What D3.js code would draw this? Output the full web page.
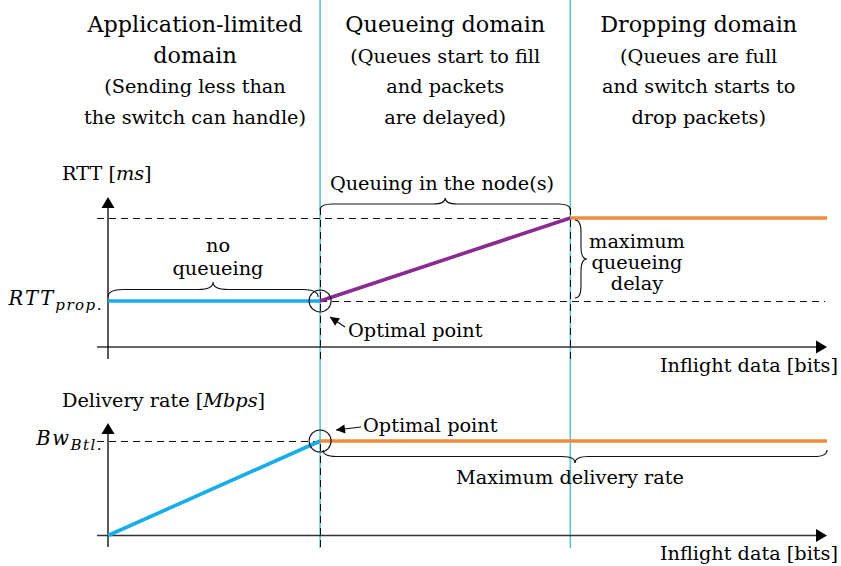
<!DOCTYPE html>
<html>
<head>
<meta charset="utf-8">
<script src="https://cdn.jsdelivr.net/npm/d3@7"></script>
<style>
  body { margin: 0; background: #fff; }
  svg text { font-family: "DejaVu Serif", "Liberation Serif", serif; fill: #000; }
</style>
</head>
<body>
<svg width="841" height="566"></svg>
<script>
// Data (inflight in % of axis length, y in % of axis height)
const xOptimal = 29.5      // BDP point
const xFull = 64.3         // queues full
const xEnd = 100
const rttProp = 30.7
const rttMax = 86
const bwBtl = 84

const rttSegments = [
  { color: "#16ade8", pts: [[0, rttProp], [xOptimal, rttProp]] },
  { color: "#8a2b91", pts: [[xOptimal, rttProp], [xFull, rttMax]] },
  { color: "#f08a3e", pts: [[xFull, rttMax], [xEnd, rttMax]] }
]
const rateSegments = [
  { color: "#16ade8", pts: [[0, 0], [xOptimal, bwBtl]] },
  { color: "#f08a3e", pts: [[xOptimal, bwBtl], [xEnd, bwBtl]] }
]

const headers = [
  { x: (0 + xOptimal) / 2, big: ["Application-limited", "domain"], small: ["(Sending less than", "the switch can handle)"] },
  { x: (xOptimal + xFull) / 2, big: ["Queueing domain"], small: ["(Queues start to fill", "and packets", "are delayed)"] },
  { x: (xFull + xEnd) / 2, big: ["Dropping domain"], small: ["(Queues are full", "and switch starts to", "drop packets)"] }
]

// The svg
const svg = d3.select("svg")

// Scales
const x = d3.scaleLinear().domain([0, 100]).range([108, 827])
const yRtt = d3.scaleLinear().domain([0, 100]).range([347, 197])
const yRate = d3.scaleLinear().domain([0, 100]).range([535.5, 423])

const dark = "#111"
const teal = "#5ec3cc"
const fs = 19.3

// Header texts
headers.forEach((h, k) => {
  const cx = k === 0 ? 195 : x(h.x)
  const t = svg.append("text").attr("text-anchor", "middle")
  h.big.forEach((s, i) => {
    t.append("tspan").attr("x", cx).attr("y", 32 + i * 31).style("font-size", "22.3px").text(s)
  })
  h.small.forEach((s, i) => {
    t.append("tspan").attr("x", cx).attr("y", 32 + (h.big.length + i) * 30.5).style("font-size", fs + "px").text(s)
  })
})

// Domain separators
;[xOptimal, xFull].forEach(v => {
  svg.append("line")
    .attr("x1", x(v)).attr("x2", x(v)).attr("y1", 0).attr("y2", 548)
    .attr("stroke", teal).attr("stroke-width", 1.6)
})

// Dashed guide lines (half pixel offset keeps them crisp)
function dashed(x1, y1, x2, y2) {
  const ox = x1 === x2 ? 0.5 : 0, oy = y1 === y2 ? 0.5 : 0
  svg.append("line")
    .attr("x1", Math.round(x1) + ox).attr("y1", Math.round(y1) + oy)
    .attr("x2", Math.round(x2) + ox).attr("y2", Math.round(y2) + oy)
    .attr("stroke", dark).attr("stroke-width", 1)
    .attr("stroke-dasharray", "7,5")
}
dashed(97, yRtt(rttMax), 827, yRtt(rttMax))
dashed(x(xOptimal), yRtt(rttProp), 825, yRtt(rttProp))
dashed(x(xOptimal), 359, x(xOptimal), 206)
dashed(x(xFull), 359, x(xFull), 206)
dashed(97, yRate(bwBtl), x(xOptimal), yRate(bwBtl))
dashed(x(xOptimal), 547, x(xOptimal), yRate(bwBtl))

// Axes with arrow heads
function axes(yScale, yBottom) {
  const y0 = yScale(0)
  svg.append("line").attr("x1", 97).attr("x2", 818).attr("y1", y0).attr("y2", y0)
    .attr("stroke", "#333").attr("stroke-width", 1.3)
  svg.append("path").attr("d", `M${x(100)},${y0} L${x(100) - 11},${y0 - 6.5} L${x(100) - 11},${y0 + 6.5} Z`)
    .attr("fill", "#000")
  svg.append("line").attr("x1", x(0)).attr("x2", x(0)).attr("y1", yBottom).attr("y2", yScale(100) + 8)
    .attr("stroke", "#000").attr("stroke-width", 1.3)
  svg.append("path").attr("d", `M${x(0)},${yScale(100)} L${x(0) - 6.5},${yScale(100) + 11} L${x(0) + 6.5},${yScale(100) + 11} Z`)
    .attr("fill", "#000")
}
axes(yRtt, 359)
axes(yRate, 547)

// Series
const line = d3.line()
rttSegments.forEach(s => {
  svg.append("path").attr("d", line(s.pts.map(p => [x(p[0]), yRtt(p[1])])))
    .attr("fill", "none").attr("stroke", s.color).attr("stroke-width", 3.6)
})
rateSegments.forEach(s => {
  svg.append("path").attr("d", line(s.pts.map(p => [x(p[0]), yRate(p[1])])))
    .attr("fill", "none").attr("stroke", s.color).attr("stroke-width", 3.6)
})

// Optimal point circles
;[[x(xOptimal), yRtt(rttProp)], [x(xOptimal), yRate(bwBtl)]].forEach(c => {
  svg.append("circle").attr("cx", c[0]).attr("cy", c[1]).attr("r", 11)
    .attr("fill", "none").attr("stroke", "#111").attr("stroke-width", 1.1)
})

// Curly braces: from (x1,y1) to (x2,y2), tip to the left of the travel direction
function brace(x1, y1, x2, y2, amp) {
  const L = Math.hypot(x2 - x1, y2 - y1)
  const ang = Math.atan2(y2 - y1, x2 - x1) * 180 / Math.PI
  const a = amp, h = a / 2, r = Math.min(a, L / 6)
  const d = `M0,0 Q0,${-h} ${r},${-h} L${L / 2 - r},${-h} Q${L / 2},${-h} ${L / 2},${-a}` +
    ` Q${L / 2},${-h} ${L / 2 + r},${-h} L${L - r},${-h} Q${L},${-h} ${L},0`
  svg.append("path").attr("d", d)
    .attr("transform", `translate(${x1},${y1}) rotate(${ang})`)
    .attr("fill", "none").attr("stroke", "#111").attr("stroke-width", 1.1)
}
brace(x(0), 297, x(xOptimal) - 2, 297, 15)
brace(x(xOptimal), 210, x(xFull), 210, 12)
brace(575, 220, 575, 298, 12)
brace(x(xEnd), 450, x(xOptimal) + 3, 450, 13)

// Helper for multi-line centred text
function label(lines, cx, y0, dy) {
  const t = svg.append("text").attr("text-anchor", "middle").style("font-size", fs + "px")
  lines.forEach((s, i) => t.append("tspan").attr("x", cx).attr("y", y0 + i * dy).text(s))
}
label(["no", "queueing"], 218, 252, 23)
label(["Queuing in the node(s)"], 442, 190, 0)
label(["maximum", "queueing", "delay"], 637, 248, 21)
label(["Maximum delivery rate"], 570, 484, 0)

// Optimal point arrows
function arrow(x1, y1, x2, y2) {
  svg.append("line").attr("x1", x1).attr("y1", y1).attr("x2", x2).attr("y2", y2)
    .attr("stroke", "#111").attr("stroke-width", 1.2)
  const ang = Math.atan2(y2 - y1, x2 - x1)
  const len = 9, w = 4.5
  const bx = x2 - len * Math.cos(ang), by = y2 - len * Math.sin(ang)
  const px = -Math.sin(ang) * w, py = Math.cos(ang) * w
  svg.append("path").attr("d", `M${x2},${y2} L${bx + px},${by + py} L${bx - px},${by - py} Z`).attr("fill", "#000")
}
arrow(345, 327, 330, 317)
arrow(361, 427, 336, 430)
svg.append("text").attr("x", 348).attr("y", 337).style("font-size", fs + "px").text("Optimal point")
svg.append("text").attr("x", 363).attr("y", 432).style("font-size", fs + "px").text("Optimal point")

// Axis titles
const rttTitle = svg.append("text").attr("x", 62).attr("y", 180).style("font-size", fs + "px")
rttTitle.append("tspan").text("RTT [")
rttTitle.append("tspan").style("font-style", "italic").text("ms")
rttTitle.append("tspan").text("]")

const rateTitle = svg.append("text").attr("x", 62).attr("y", 407).style("font-size", fs + "px")
rateTitle.append("tspan").text("Delivery rate [")
rateTitle.append("tspan").style("font-style", "italic").text("Mbps")
rateTitle.append("tspan").text("]")

const rttLbl = svg.append("text").attr("x", 103).attr("y", 305).attr("text-anchor", "end")
  .style("font-style", "italic").style("font-size", "19.5px").style("letter-spacing", "2px")
rttLbl.append("tspan").text("RTT")
rttLbl.append("tspan").attr("dy", 5).style("font-size", "15px").style("letter-spacing", "1.5px").text("prop.")

const bwLbl = svg.append("text").attr("x", 103).attr("y", 445).attr("text-anchor", "end")
  .style("font-style", "italic").style("font-size", "19.5px").style("letter-spacing", "1.5px")
bwLbl.append("tspan").text("Bw")
bwLbl.append("tspan").attr("dy", 5).style("font-size", "15px").text("Btl.")

;[372, 560].forEach(yy => {
  svg.append("text").attr("x", 838).attr("y", yy).attr("text-anchor", "end")
    .style("font-size", fs + "px").text("Inflight data [bits]")
})
</script>
</body>
</html>
